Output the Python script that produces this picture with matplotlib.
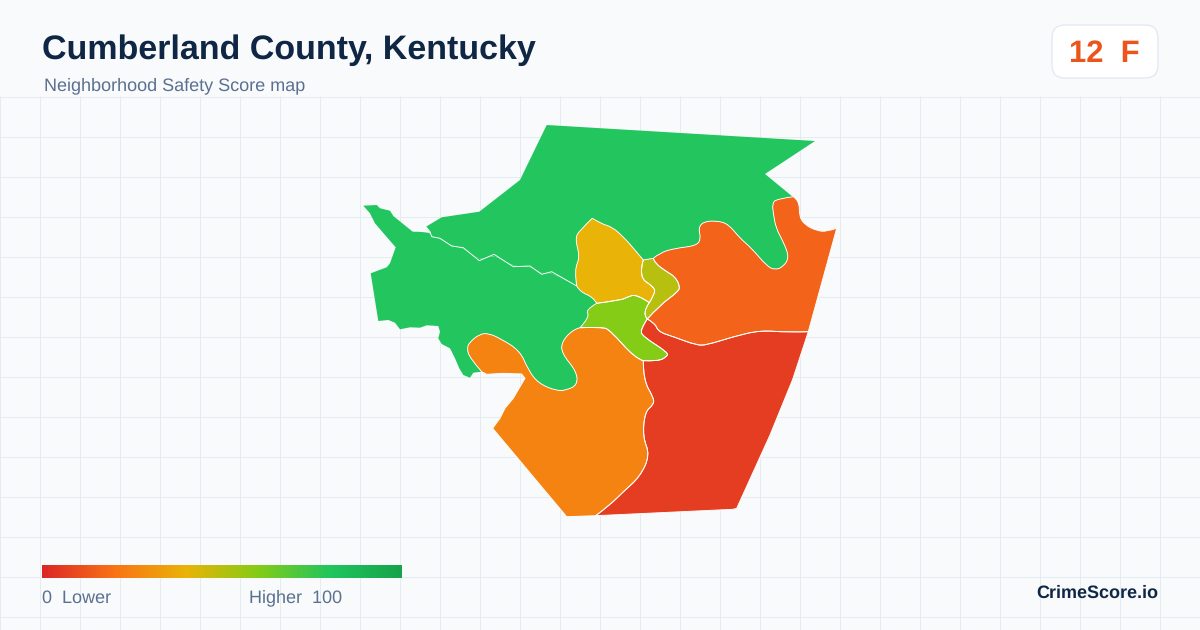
import matplotlib
matplotlib.use("Agg")
import numpy as np
import matplotlib.pyplot as plt
from matplotlib.colors import LinearSegmentedColormap
from matplotlib.patches import FancyBboxPatch, PathPatch
from matplotlib.path import Path

plt.rcParams["font.family"] = ["Liberation Sans", "DejaVu Sans"]
plt.rcParams["text.hinting"] = "no_hinting"
plt.rcParams["text.hinting_factor"] = 1

TITLE = "Cumberland County, Kentucky"
SUBTITLE = "Neighborhood Safety Score map"
COUNTY_SCORE = 12
COUNTY_GRADE = "F"
BRAND = "CrimeScore.io"

SCALE_STOPS = [0, 20, 40, 60, 80, 100]
SCALE_COLORS = ["#dc2626", "#f97316", "#eab308", "#84cc16", "#22c55e", "#16a34a"]

score_north = 80
score_west = 80
score_yellow = 40
score_olive = 50
score_lime = 60
score_northeast = 16
score_southwest = 25
score_southeast = 6

north_edge = [(426, 226.7), (441.7, 217.3), (479.3, 211.7), (520, 180), (546.7, 125),
              (815, 141), (765, 174), (793, 197)]
west_north_border = [(426, 226.7), (430, 231.7), (431.7, 236.7), (440, 238.3), (451.7, 246),
                     (463.3, 247.7), (479.3, 260.7), (494, 254.3), (513.3, 266.7), (530, 266),
                     (541.7, 274.3), (551.7, 271.7), (576.7, 286)]
west_outer = [(363.3, 205.7), (376.7, 205), (380, 208.3), (390, 210.7), (393.3, 216), (412.7, 231.7)]
west_outer_south = [(481.7, 371.7), (473.3, 372.7), (470, 377.7), (463.3, 375), (459.3, 368.3),
                    (455, 358.3), (450, 348.3), (441.7, 344), (438.3, 338.3), (440, 331.7),
                    (438.3, 326), (426.7, 325.3), (420, 327.7), (410, 327.3), (400, 329.3),
                    (395, 322.7), (388.3, 320), (378.3, 321), (370.7, 273.3), (386.7, 267.3),
                    (390, 263.3), (395.7, 247.3), (385, 235), (375, 223.3), (370, 213.3)]
yellow_left = [(576.7, 286), (574.3, 270), (580, 257.3), (575, 238.3), (580, 230), (592.3, 218.3)]
yellow_top = [(592.3, 218.3), (601.7, 224), (611.7, 226.7), (623.3, 236.7), (635, 250), (643.3, 260)]
yellow_olive = [(643.3, 260), (638.3, 276.7), (654.3, 287.3), (655, 293.3), (649.3, 302.7)]
yellow_lime = [(649.3, 302.7), (636.7, 294), (626.7, 297.3), (621.7, 300), (596.7, 303.3)]
yellow_west = [(596.7, 303.3), (593.3, 297.3), (580, 291.7), (576.7, 286)]
olive_top = [(643.3, 260), (653.3, 258.3)]
ne_olive = [(653.3, 258.3), (655, 263.3), (666.7, 271.7), (675, 276.7), (680, 286),
            (678.3, 291.7), (660, 305), (647.3, 319)]
olive_lime = [(647.3, 319), (641.7, 313.3), (649.3, 302.7)]
ne_north = [(653.3, 258.3), (660, 252.7), (675, 248.3), (696.7, 245.7), (701, 238.3),
            (698.3, 228.3), (703.3, 221.7), (716.7, 220.7), (728.3, 224), (740, 238.3),
            (751.7, 248.3), (766.7, 266), (775, 270), (783.3, 266.7), (789.3, 257.3),
            (783.3, 241.7), (776, 228.3), (773.3, 213.3), (772.3, 203.3), (776.7, 199),
            (793.3, 196.7)]
ne_east = [(793.3, 196.7), (799.3, 200.7), (799.3, 216.7), (805, 225), (816.7, 230.7),
           (826.7, 231.7), (836.7, 228.3)]
ne_east_line = [(836.7, 228.3), (808.3, 331.7)]
ne_south = [(808.3, 331.7), (786.7, 332.3), (760, 330.3), (733.3, 336.7), (706.7, 345),
            (696.7, 345.3), (673.3, 336.7), (658.3, 331.7), (655, 323.3), (647.3, 319)]
lime_red = [(647.3, 319), (640, 330), (643.3, 336.7), (668.3, 352.7), (666.7, 356.7),
            (658.3, 361.3), (643.3, 360.7)]
lime_sw = [(643.3, 360.7), (635, 358.3), (610, 330), (601.7, 327), (580, 327.7)]
lime_west = [(580, 327.7), (590, 316.7), (585.3, 310), (596.7, 303.3)]
sw_west = [(580, 327.7), (573.3, 329.3), (561.7, 341.7), (561.7, 353.3), (576.7, 371.7),
           (577.3, 385), (566.7, 390), (556.7, 391), (538.3, 383.3), (528.3, 370),
           (520, 350.7), (500, 338.3), (488.3, 333.3), (480, 334), (470, 341.7),
           (466.7, 348.3), (470, 358.3), (481.7, 371.7)]
sw_top = [(481.7, 371.7), (486.7, 374.3), (503.3, 373.3), (521.7, 374), (525, 378.3)]
sw_outer = [(525, 378.3), (513.3, 398.3), (505, 408.3), (500, 418.3), (492.7, 428.3),
            (566.7, 516.7), (595.7, 515.7)]
sw_se = [(595.7, 515.7), (610, 505), (623.3, 491.7), (640, 476.7), (650, 455), (642.7, 436.7),
         (645, 411.7), (653.3, 405), (654, 398.3), (643.3, 380), (643.3, 360.7)]
se_outer = [(808.3, 331.7), (792.7, 379.3), (770, 435), (736.7, 508.3), (733, 509.3), (595.7, 515.7)]

CURVED = {id(p) for p in (west_north_border, yellow_left, yellow_top, yellow_olive, yellow_lime,
                          yellow_west, ne_olive, olive_lime, ne_north, ne_east, ne_south, lime_red,
                          lime_sw, lime_west, sw_west, sw_se)}


def rev(part):
    return (part, True)


def build_path(*parts):
    verts, codes = [], []
    for part in parts:
        flip = isinstance(part, tuple)
        base = part[0] if flip else part
        pts = base[::-1] if flip else base
        if not verts:
            verts.append(pts[0])
            codes.append(Path.MOVETO)
        if id(base) in CURVED and len(pts) > 2:
            for i in range(1, len(pts) - 1):
                a, b = pts[i], pts[i + 1]
                end = b if i == len(pts) - 2 else ((a[0] + b[0]) / 2, (a[1] + b[1]) / 2)
                verts += [a, end]
                codes += [Path.CURVE3, Path.CURVE3]
        else:
            verts += pts[1:]
            codes += [Path.LINETO] * (len(pts) - 1)
    verts.append(verts[0])
    codes.append(Path.CLOSEPOLY)
    return Path(verts, codes)


REGIONS = [
    (build_path(north_edge, rev(ne_north), rev(olive_top), rev(yellow_top), rev(yellow_left),
                rev(west_north_border)), score_north),
    (build_path(west_outer, west_north_border, rev(yellow_west), rev(lime_west), sw_west,
                west_outer_south), score_west),
    (build_path(yellow_left, yellow_top, yellow_olive, yellow_lime, yellow_west), score_yellow),
    (build_path(olive_top, ne_olive, olive_lime, rev(yellow_olive)), score_olive),
    (build_path(rev(yellow_lime), rev(olive_lime), lime_red, lime_sw, lime_west), score_lime),
    (build_path(ne_north, ne_east, ne_east_line, ne_south, rev(ne_olive)), score_northeast),
    (build_path(rev(sw_west), rev(lime_sw), rev(sw_se), rev(sw_outer), rev(sw_top)), score_southwest),
    (build_path(rev(ne_south), se_outer, sw_se, rev(lime_red)), score_southeast),
]

cmap = LinearSegmentedColormap.from_list(
    "safety", [(s / 100, c) for s, c in zip(SCALE_STOPS, SCALE_COLORS)], N=512)

fig = plt.figure(figsize=(12, 6.3), dpi=100, facecolor="#f8fafc")
ax = fig.add_axes([0, 0, 1, 1])
ax.set_xlim(0, 1200)
ax.set_ylim(630, 0)
ax.axis("off")

grid_color = "#e3ecf0"
ax.vlines(np.arange(0, 1200, 40), 96, 630, color=grid_color, lw=0.72, zorder=1)
ax.hlines(np.arange(96, 630, 40) + 0.5, 0, 1200, color=grid_color, lw=0.72, zorder=1)

for path, score in REGIONS:
    ax.add_patch(PathPatch(path, facecolor=cmap(score / 100), edgecolor="none", zorder=2))
for path, score in REGIONS[2:]:
    ax.add_patch(PathPatch(path, facecolor="none", edgecolor="#ffffff", lw=0.65, zorder=3))
ax.add_patch(PathPatch(Path(west_north_border), facecolor="none", edgecolor="#ffffff", lw=0.65, zorder=3))

ax.text(42, 58.5, TITLE, fontsize=24.48, fontweight="bold", color="#0f2744", va="baseline", zorder=5)
ax.text(44, 89.8, SUBTITLE, fontsize=12.96, color="#5a7090", va="baseline", zorder=5)

ax.add_patch(FancyBboxPatch((1052, 25), 106, 53, boxstyle="round,pad=0,rounding_size=13",
                            facecolor="#ffffff", edgecolor="#e2e8f0", lw=0.9, zorder=4))
ax.text(1104.5, 62.3, f"{COUNTY_SCORE}  {COUNTY_GRADE}", fontsize=22.6, fontweight="bold",
        color=cmap(COUNTY_SCORE / 100), ha="center", va="baseline", zorder=5)

gradient = np.linspace(0, 1, 360).reshape(1, -1)
ax.imshow(gradient, cmap=cmap, extent=(42, 402, 578, 565), aspect="auto", zorder=4,
          interpolation="bilinear")
ax.set_xlim(0, 1200)
ax.set_ylim(630, 0)
ax.text(42, 602.5, f"{SCALE_STOPS[0]}  Lower", fontsize=12.96, color="#5a7090", va="baseline", zorder=5)
ax.text(249, 602.5, f"Higher  {SCALE_STOPS[-1]}", fontsize=12.96, color="#5a7090", va="baseline", zorder=5)
ax.text(1158, 598.3, BRAND, fontsize=12.96, fontweight="bold", color="#0f2744",
        ha="right", va="baseline", zorder=5)

fig.savefig("out.png", dpi=100, facecolor=fig.get_facecolor())
